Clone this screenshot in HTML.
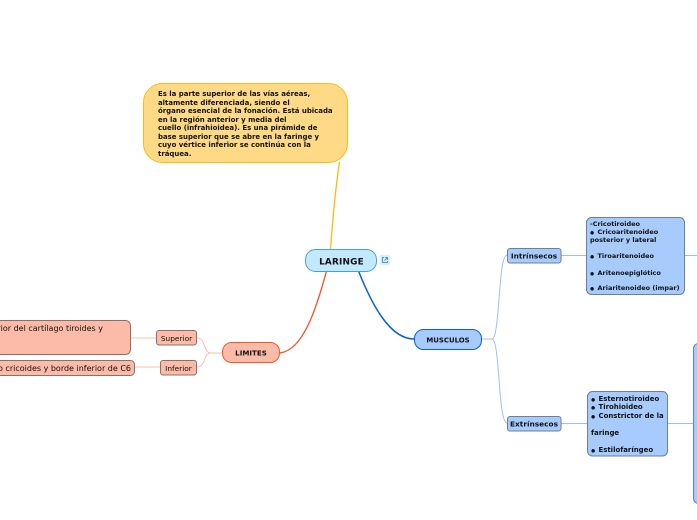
<!DOCTYPE html>
<html><head><meta charset="utf-8"><style>
html,body{margin:0;padding:0;background:#fff;width:697px;height:520px;overflow:hidden}
svg{display:block}
text{font-family:"DejaVu Sans","Liberation Sans",sans-serif;fill:#111}
.b{font-weight:bold;font-size:6.95px}
.i{font-weight:bold;font-size:6.5px}
.o{font-size:4.6px}
.s{font-size:8px}
</style></head><body>
<svg width="697" height="520" viewBox="0 0 697 520" xmlns="http://www.w3.org/2000/svg">
<g fill="none">
<path d="M330.500 249C333 215 336 185 339.500 162" stroke="#fdb813" stroke-width="1.300"/>
<path d="M326.500 271C316 310 303 350 280 353" stroke="#f2582a" stroke-width="1.400"/>
<path d="M358.500 271C372 305 390 339 414 339" stroke="#0a5fd6" stroke-width="1.500"/>
<path d="M222 353H211C203 353 206 338 197 338M211 353C203 353 206 367 197 367" stroke="#fbbfae" stroke-width="1"/>
<path d="M156 338H131M160 367H135" stroke="#fbbfae" stroke-width="1"/>
<path d="M482 339H492C500 339 498 255 507 255M492 339C500 339 498 423 507 423" stroke="#9dbff0" stroke-width="1"/>
<path d="M561 255.500H586M685 255.500H697M561 423.500H587M668 423.500H693" stroke="#9dbff0" stroke-width="1"/>
</g>

<rect x="143.500" y="83.500" width="204" height="79" rx="19" fill="#feda87" stroke="#fdb813"/>
<g class="b">
<text x="158" y="96">Es la parte superior de las vías aéreas,</text>
<text x="158" y="105">altamente diferenciada, siendo el</text>
<text x="158" y="113">órgano esencial de la fonación. Está ubicada</text>
<text x="158" y="122">en la región anterior y media del</text>
<text x="158" y="130">cuello (infrahioidea). Es una pirámide de</text>
<text x="158" y="139">base superior que se abre en la faringe y</text>
<text x="158" y="147">cuyo vértice inferior se continúa con la</text>
<text x="158" y="156">tráquea.</text>
</g>

<rect x="305.500" y="249.500" width="71" height="22" rx="10" fill="#c3e9fd" stroke="#4a9fd8"/>
<text x="341.500" y="264.500" text-anchor="middle" font-weight="bold" font-size="8.900" letter-spacing=".2">LARINGE</text>
<rect x="380" y="255" width="10" height="10" fill="#d3effc"/>
<path d="M384 257.500H382.500V262.500H387.500V261M385 257.500H387.500V260M387.300 257.700L384.500 260.500" fill="none" stroke="#3d7fa8" stroke-width=".8"/>

<rect x="222.500" y="342.500" width="57" height="20" rx="9" fill="#fbbba8" stroke="#f2582a"/>
<text x="251" y="355.500" text-anchor="middle" font-weight="bold" font-size="7.100">LIMITES</text>

<rect x="414.500" y="329.500" width="67" height="20" rx="9" fill="#a7cbfd" stroke="#0a5fd6"/>
<text x="448" y="342.500" text-anchor="middle" font-weight="bold" font-size="6.950">MUSCULOS</text>

<g stroke="#8a7068" fill="#fbbba8">
<rect x="156.500" y="330.500" width="40" height="14.500" rx="2.500"/>
<rect x="160.500" y="360.500" width="36" height="14.500" rx="2.500"/>
<rect x="-20" y="320.500" width="150.500" height="34" rx="5"/>
<rect x="-20" y="360.500" width="154.500" height="15" rx="4"/>
</g>
<text x="176.500" y="341" text-anchor="middle" font-size="7.400">Superior</text>
<text x="178.500" y="371" text-anchor="middle" font-size="7.400">Inferior</text>
<text x="103" y="331" text-anchor="end" class="s">Borde superior del cartílago tiroides y</text>
<text x="131" y="371" text-anchor="end" class="s">Cartílago cricoides y borde inferior de C6</text>

<g stroke="#6f7f96" fill="#a7cbfd">
<rect x="507.500" y="248.500" width="53.500" height="14.500" rx="2.500"/>
<rect x="507.500" y="416.500" width="53.500" height="14.500" rx="2.500"/>
<rect x="586.500" y="217.500" width="98" height="77" rx="5"/>
<rect x="587.500" y="391.500" width="80" height="64.500" rx="5"/>
<rect x="693.500" y="343.500" width="30" height="160" rx="5"/>
</g>
<text x="534" y="258.500" text-anchor="middle" font-weight="bold" font-size="7.400">Intrínsecos</text>
<text x="534" y="426.500" text-anchor="middle" font-weight="bold" font-size="7.400">Extrínsecos</text>
<g class="i">
<text x="590" y="226">-Cricotiroideo</text>
<text x="590" y="234"><tspan class="o">●</tspan><tspan x="597.500">Cricoaritenoideo</tspan></text>
<text x="590" y="242">posterior y lateral</text>
<text x="590" y="258"><tspan class="o">●</tspan><tspan x="597.500">Tiroaritenoideo</tspan></text>
<text x="590" y="275"><tspan class="o">●</tspan><tspan x="597.500">Aritenoepiglótico</tspan></text>
<text x="590" y="290"><tspan class="o">●</tspan><tspan x="597.500">Ariaritenoideo (impar)</tspan></text>
</g>
<g class="b">
<text x="591" y="401"><tspan class="o">●</tspan><tspan x="598.500">Esternotiroideo</tspan></text>
<text x="591" y="409"><tspan class="o">●</tspan><tspan x="598.500">Tirohioideo</tspan></text>
<text x="591" y="418"><tspan class="o">●</tspan><tspan x="598.500">Constrictor de la</tspan></text>
<text x="591" y="435">faringe</text>
<text x="591" y="452"><tspan class="o">●</tspan><tspan x="598.500">Estilofaríngeo</tspan></text>
</g>
</svg>
</body></html>
